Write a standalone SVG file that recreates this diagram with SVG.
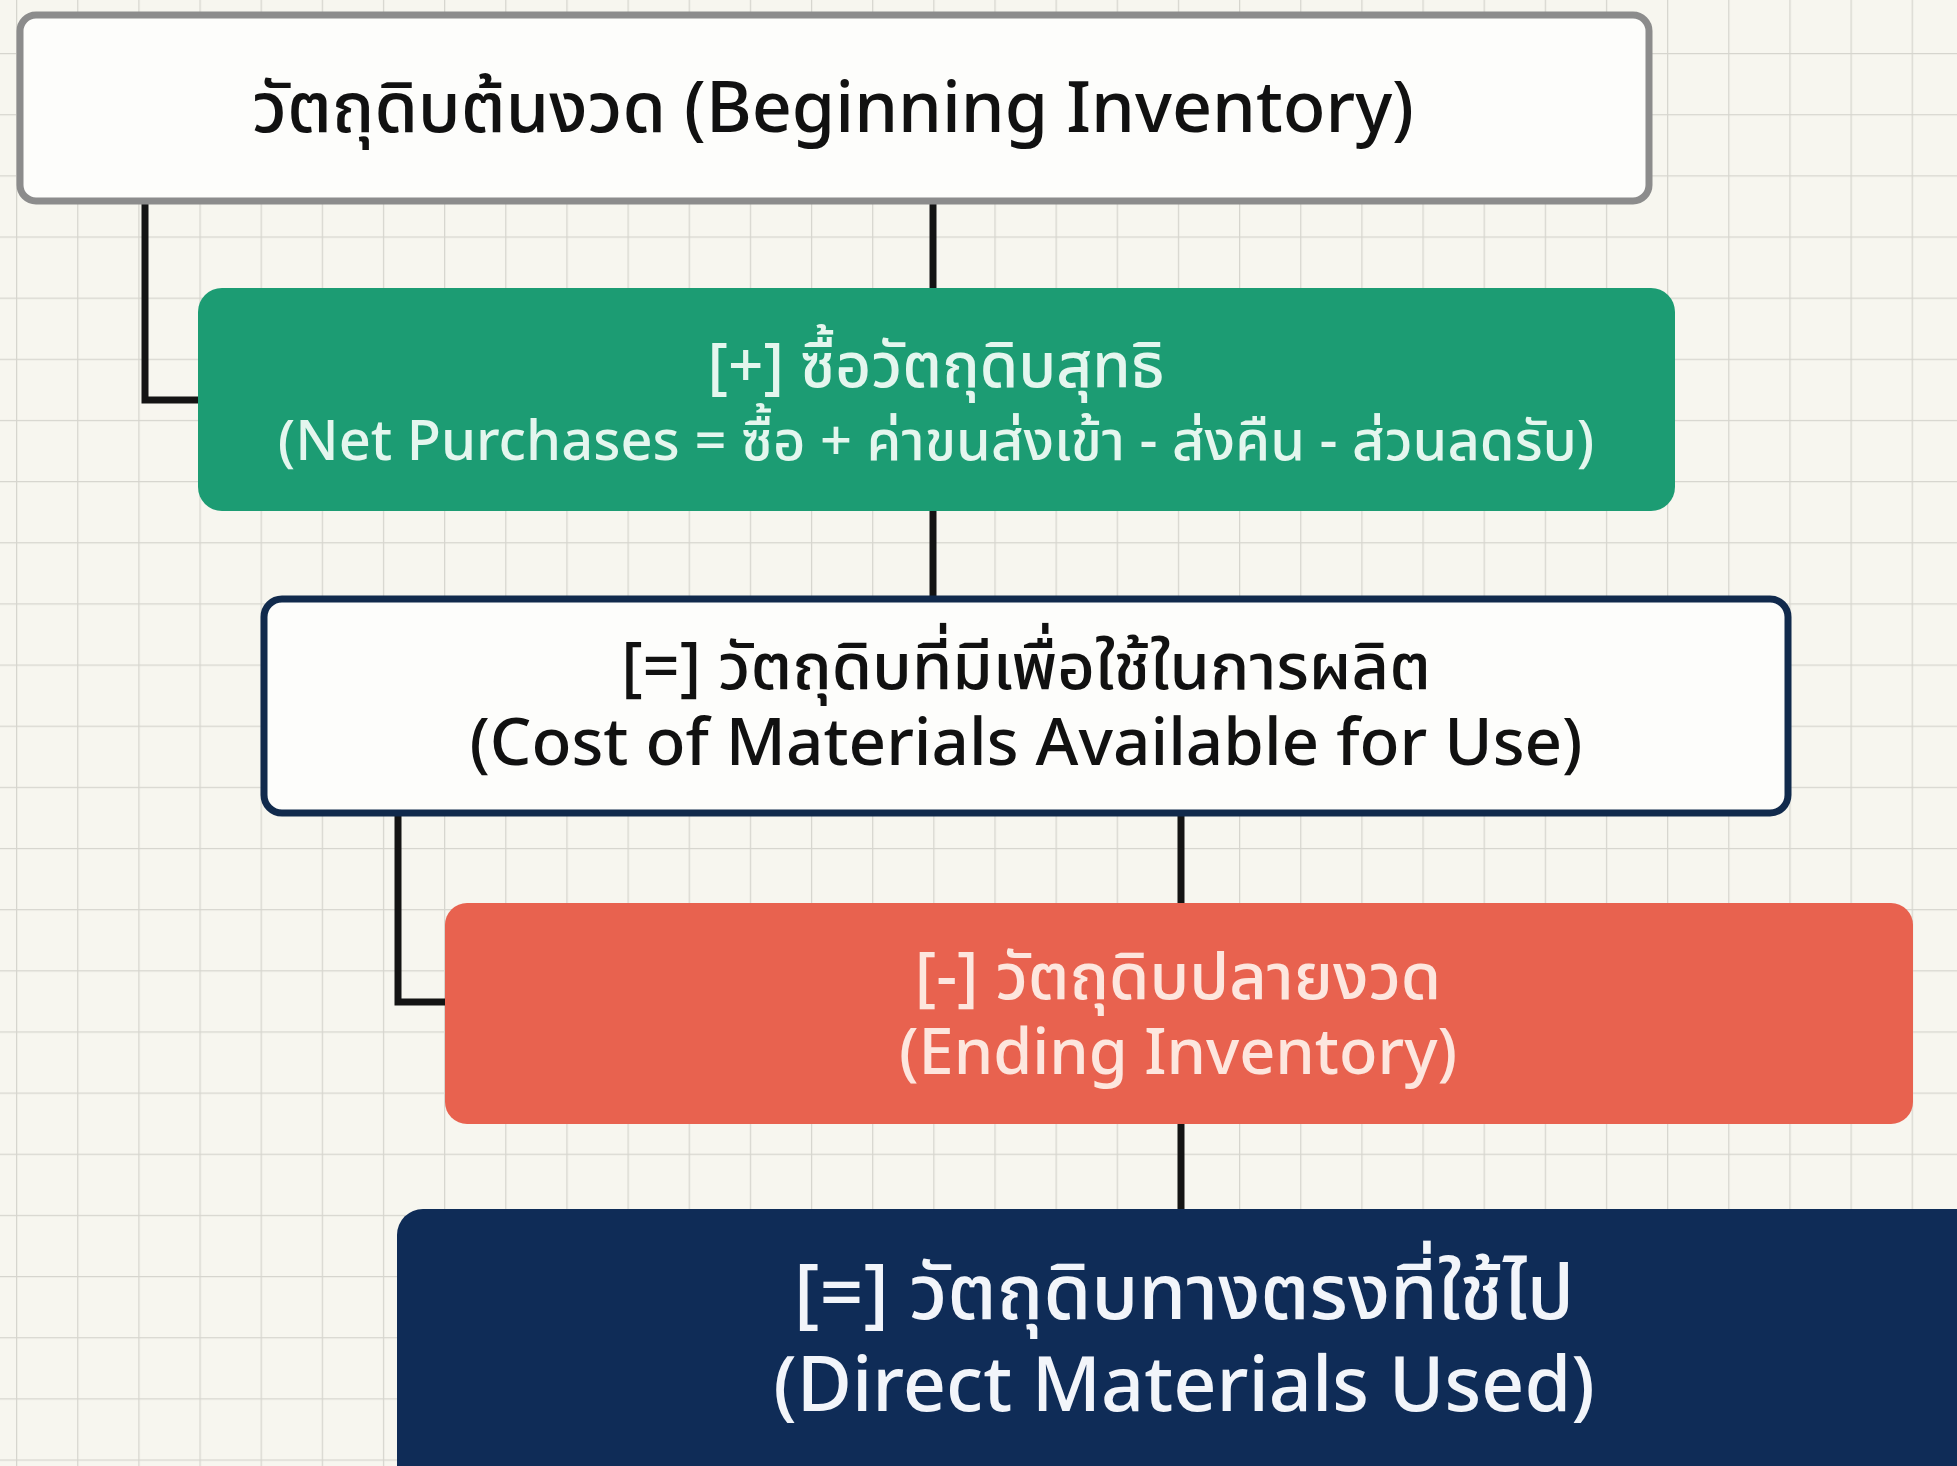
<svg xmlns="http://www.w3.org/2000/svg" width="1957" height="1466" viewBox="0 0 1957 1466">
<defs>
<pattern id="grid" patternUnits="userSpaceOnUse" x="16" y="53" width="61.15" height="61.15">
<path d="M0 0 H61.15 M0 0 V61.15" fill="none" stroke="#d6d5ce" stroke-width="2.5"/>
</pattern>
<style>
.t{font-family:"Noto Sans","Noto Sans Thai","Noto Sans Thai Looped","Liberation Sans",sans-serif;text-anchor:middle;font-weight:500}
.conn{fill:none;stroke:#141414;stroke-width:7;stroke-linejoin:miter}
</style>
</defs>
<rect width="1957" height="1466" fill="#f7f6ef"/>
<rect width="1957" height="1466" fill="url(#grid)"/>
<g id="connectors">
<path class="conn" d="M145 203 V400 H200"/>
<path class="conn" d="M933 203 V290"/>
<path class="conn" d="M933 509 V598"/>
<path class="conn" d="M398 815 V1002 H447"/>
<path class="conn" d="M1181 815 V905"/>
<path class="conn" d="M1181 1122 V1210"/>
</g>
<g id="beginning-inventory">
<rect x="20" y="15" width="1629" height="186" rx="16" fill="#fdfdfb" stroke="#8c8c8c" stroke-width="7"/>
<text class="t" x="833" y="132" font-size="70" fill="#111">วัตถุดิบต้นงวด (Beginning Inventory)</text>
</g>
<g id="net-purchases">
<rect x="198" y="288" width="1477" height="223" rx="24" fill="#1c9c73"/>
<text class="t" x="936" y="387" font-size="62" fill="#e4f6ee">[+] ซื้อวัตถุดิบสุทธิ</text>
<text class="t" x="936" y="460" font-size="56" fill="#e4f6ee">(Net Purchases = ซื้อ + ค่าขนส่งเข้า - ส่งคืน - ส่วนลดรับ)</text>
</g>
<g id="materials-available">
<rect x="264" y="599" width="1524" height="214" rx="18" fill="#fdfdfb" stroke="#112a4c" stroke-width="7"/>
<text class="t" x="1026" y="689" font-size="65" fill="#111">[=] วัตถุดิบที่มีเพื่อใช้ในการผลิต</text>
<text class="t" x="1026" y="765" font-size="65.5" fill="#111">(Cost of Materials Available for Use)</text>
</g>
<g id="ending-inventory">
<rect x="445" y="903" width="1468" height="221" rx="22" fill="#e8624f"/>
<text class="t" x="1178" y="999" font-size="65" fill="#fde6de">[-] วัตถุดิบปลายงวด</text>
<text class="t" x="1178" y="1074" font-size="63" fill="#fde6de">(Ending Inventory)</text>
</g>
<g id="direct-materials-used">
<rect x="397" y="1209" width="1600" height="300" rx="26" fill="#0f2c57"/>
<text class="t" x="1184" y="1319" font-size="77" fill="#f2f5fa">[=] วัตถุดิบทางตรงที่ใช้ไป</text>
<text class="t" x="1184" y="1411" font-size="75.5" fill="#f2f5fa">(Direct Materials Used)</text>
</g>
</svg>
